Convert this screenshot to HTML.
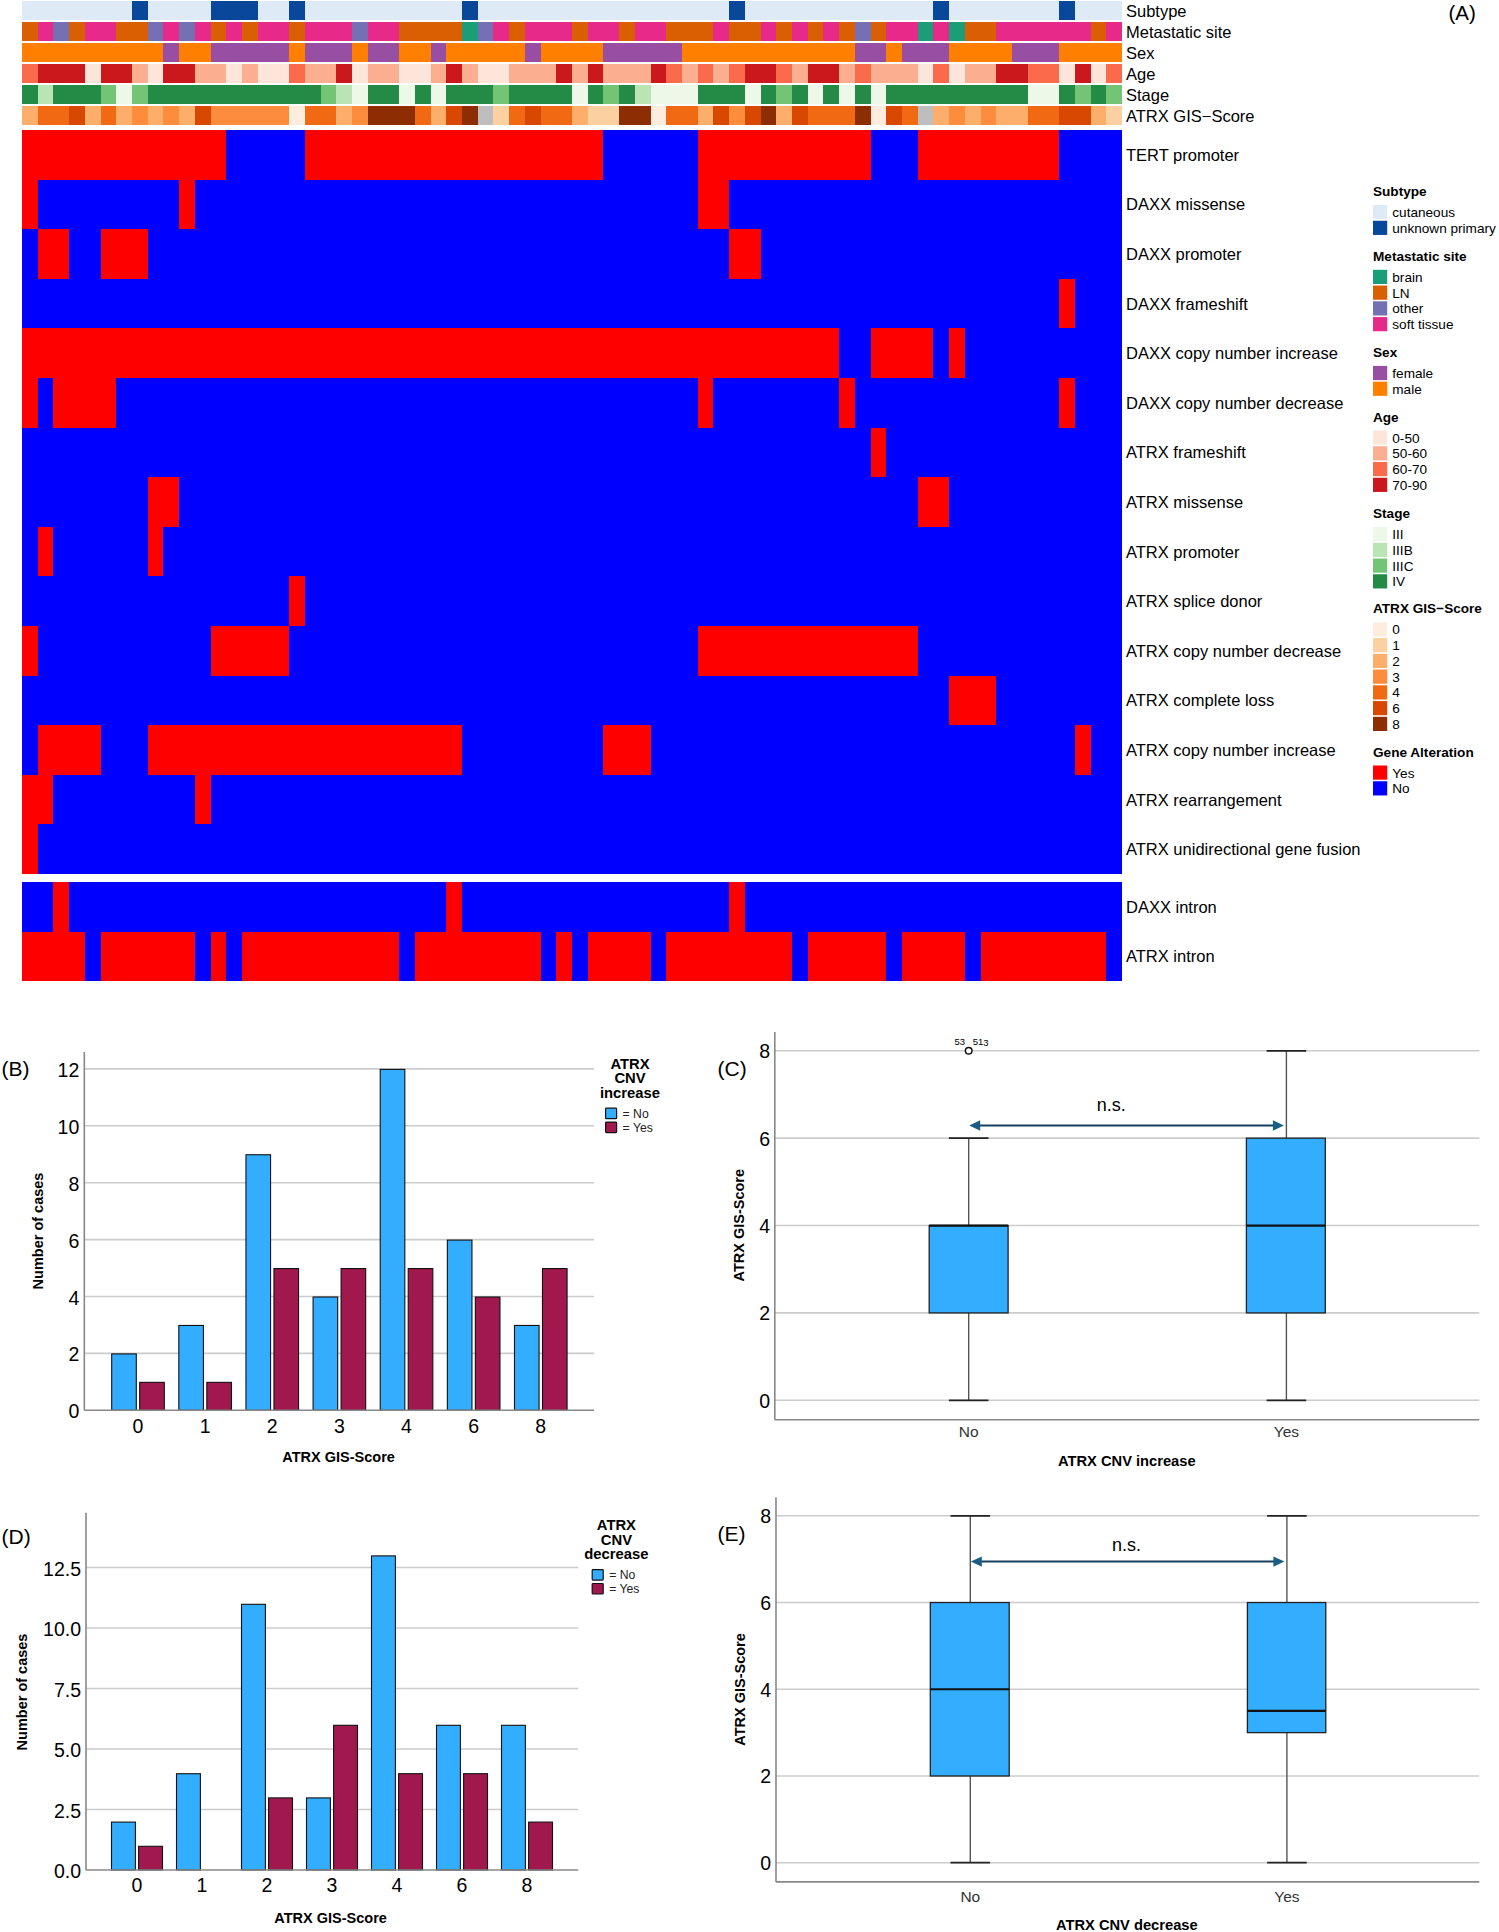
<!DOCTYPE html>
<html><head><meta charset="utf-8"><title>Figure</title>
<style>html,body{margin:0;padding:0;background:#fff;}body{width:1499px;height:1932px;overflow:hidden;font-family:"Liberation Sans", sans-serif;}svg{display:block;}</style>
</head><body>
<svg width="1499" height="1932" viewBox="0 0 1499 1932" font-family='"Liberation Sans", sans-serif'>
<rect x="0" y="0" width="1499" height="1932" fill="#fff"/>
<g shape-rendering="crispEdges">
<rect x="22.00" y="1.10" width="110.00" height="19.10" fill="#deebf7" />
<rect x="132.00" y="1.10" width="15.71" height="19.10" fill="#08479a" />
<rect x="147.71" y="1.10" width="62.86" height="19.10" fill="#deebf7" />
<rect x="210.57" y="1.10" width="47.14" height="19.10" fill="#08479a" />
<rect x="257.71" y="1.10" width="31.43" height="19.10" fill="#deebf7" />
<rect x="289.14" y="1.10" width="15.71" height="19.10" fill="#08479a" />
<rect x="304.86" y="1.10" width="157.14" height="19.10" fill="#deebf7" />
<rect x="462.00" y="1.10" width="15.71" height="19.10" fill="#08479a" />
<rect x="477.71" y="1.10" width="251.43" height="19.10" fill="#deebf7" />
<rect x="729.14" y="1.10" width="15.71" height="19.10" fill="#08479a" />
<rect x="744.86" y="1.10" width="188.57" height="19.10" fill="#deebf7" />
<rect x="933.43" y="1.10" width="15.71" height="19.10" fill="#08479a" />
<rect x="949.14" y="1.10" width="110.00" height="19.10" fill="#deebf7" />
<rect x="1059.14" y="1.10" width="15.71" height="19.10" fill="#08479a" />
<rect x="1074.86" y="1.10" width="47.14" height="19.10" fill="#deebf7" />
<text x="1126.00" y="16.55" font-size="16.5" text-anchor="start" font-weight="normal" fill="#000" >Subtype</text>
<rect x="22.00" y="22.15" width="15.71" height="19.10" fill="#d95f02" />
<rect x="37.71" y="22.15" width="15.71" height="19.10" fill="#e7298a" />
<rect x="53.43" y="22.15" width="15.71" height="19.10" fill="#7570b3" />
<rect x="69.14" y="22.15" width="15.71" height="19.10" fill="#d95f02" />
<rect x="84.86" y="22.15" width="31.43" height="19.10" fill="#e7298a" />
<rect x="116.29" y="22.15" width="31.43" height="19.10" fill="#d95f02" />
<rect x="147.71" y="22.15" width="15.71" height="19.10" fill="#7570b3" />
<rect x="163.43" y="22.15" width="15.71" height="19.10" fill="#e7298a" />
<rect x="179.14" y="22.15" width="15.71" height="19.10" fill="#7570b3" />
<rect x="194.86" y="22.15" width="15.71" height="19.10" fill="#e7298a" />
<rect x="210.57" y="22.15" width="15.71" height="19.10" fill="#d95f02" />
<rect x="226.29" y="22.15" width="15.71" height="19.10" fill="#e7298a" />
<rect x="242.00" y="22.15" width="15.71" height="19.10" fill="#d95f02" />
<rect x="257.71" y="22.15" width="31.43" height="19.10" fill="#e7298a" />
<rect x="289.14" y="22.15" width="15.71" height="19.10" fill="#d95f02" />
<rect x="304.86" y="22.15" width="47.14" height="19.10" fill="#e7298a" />
<rect x="352.00" y="22.15" width="15.71" height="19.10" fill="#7570b3" />
<rect x="367.71" y="22.15" width="31.43" height="19.10" fill="#e7298a" />
<rect x="399.14" y="22.15" width="62.86" height="19.10" fill="#d95f02" />
<rect x="462.00" y="22.15" width="15.71" height="19.10" fill="#1b9e77" />
<rect x="477.71" y="22.15" width="15.71" height="19.10" fill="#7570b3" />
<rect x="493.43" y="22.15" width="15.71" height="19.10" fill="#e7298a" />
<rect x="509.14" y="22.15" width="15.71" height="19.10" fill="#d95f02" />
<rect x="524.86" y="22.15" width="47.14" height="19.10" fill="#e7298a" />
<rect x="572.00" y="22.15" width="15.71" height="19.10" fill="#d95f02" />
<rect x="587.71" y="22.15" width="31.43" height="19.10" fill="#e7298a" />
<rect x="619.14" y="22.15" width="15.71" height="19.10" fill="#d95f02" />
<rect x="634.86" y="22.15" width="31.43" height="19.10" fill="#e7298a" />
<rect x="666.29" y="22.15" width="47.14" height="19.10" fill="#d95f02" />
<rect x="713.43" y="22.15" width="15.71" height="19.10" fill="#e7298a" />
<rect x="729.14" y="22.15" width="31.43" height="19.10" fill="#d95f02" />
<rect x="760.57" y="22.15" width="15.71" height="19.10" fill="#e7298a" />
<rect x="776.29" y="22.15" width="15.71" height="19.10" fill="#d95f02" />
<rect x="792.00" y="22.15" width="15.71" height="19.10" fill="#e7298a" />
<rect x="807.71" y="22.15" width="15.71" height="19.10" fill="#d95f02" />
<rect x="823.43" y="22.15" width="15.71" height="19.10" fill="#e7298a" />
<rect x="839.14" y="22.15" width="15.71" height="19.10" fill="#d95f02" />
<rect x="854.86" y="22.15" width="15.71" height="19.10" fill="#7570b3" />
<rect x="870.57" y="22.15" width="15.71" height="19.10" fill="#d95f02" />
<rect x="886.29" y="22.15" width="31.43" height="19.10" fill="#e7298a" />
<rect x="917.71" y="22.15" width="15.71" height="19.10" fill="#1b9e77" />
<rect x="933.43" y="22.15" width="15.71" height="19.10" fill="#e7298a" />
<rect x="949.14" y="22.15" width="15.71" height="19.10" fill="#1b9e77" />
<rect x="964.86" y="22.15" width="31.43" height="19.10" fill="#d95f02" />
<rect x="996.29" y="22.15" width="94.29" height="19.10" fill="#e7298a" />
<rect x="1090.57" y="22.15" width="15.71" height="19.10" fill="#d95f02" />
<rect x="1106.29" y="22.15" width="15.71" height="19.10" fill="#e7298a" />
<text x="1126.00" y="37.60" font-size="16.5" text-anchor="start" font-weight="normal" fill="#000" >Metastatic site</text>
<rect x="22.00" y="43.20" width="141.43" height="19.10" fill="#ff7f00" />
<rect x="163.43" y="43.20" width="15.71" height="19.10" fill="#984ea3" />
<rect x="179.14" y="43.20" width="31.43" height="19.10" fill="#ff7f00" />
<rect x="210.57" y="43.20" width="78.57" height="19.10" fill="#984ea3" />
<rect x="289.14" y="43.20" width="15.71" height="19.10" fill="#ff7f00" />
<rect x="304.86" y="43.20" width="47.14" height="19.10" fill="#984ea3" />
<rect x="352.00" y="43.20" width="15.71" height="19.10" fill="#ff7f00" />
<rect x="367.71" y="43.20" width="31.43" height="19.10" fill="#984ea3" />
<rect x="399.14" y="43.20" width="31.43" height="19.10" fill="#ff7f00" />
<rect x="430.57" y="43.20" width="15.71" height="19.10" fill="#984ea3" />
<rect x="446.29" y="43.20" width="78.57" height="19.10" fill="#ff7f00" />
<rect x="524.86" y="43.20" width="15.71" height="19.10" fill="#984ea3" />
<rect x="540.57" y="43.20" width="62.86" height="19.10" fill="#ff7f00" />
<rect x="603.43" y="43.20" width="78.57" height="19.10" fill="#984ea3" />
<rect x="682.00" y="43.20" width="172.86" height="19.10" fill="#ff7f00" />
<rect x="854.86" y="43.20" width="31.43" height="19.10" fill="#984ea3" />
<rect x="886.29" y="43.20" width="15.71" height="19.10" fill="#ff7f00" />
<rect x="902.00" y="43.20" width="47.14" height="19.10" fill="#984ea3" />
<rect x="949.14" y="43.20" width="62.86" height="19.10" fill="#ff7f00" />
<rect x="1012.00" y="43.20" width="47.14" height="19.10" fill="#984ea3" />
<rect x="1059.14" y="43.20" width="62.86" height="19.10" fill="#ff7f00" />
<text x="1126.00" y="58.65" font-size="16.5" text-anchor="start" font-weight="normal" fill="#000" >Sex</text>
<rect x="22.00" y="64.25" width="15.71" height="19.10" fill="#fb6a4a" />
<rect x="37.71" y="64.25" width="47.14" height="19.10" fill="#cb181d" />
<rect x="84.86" y="64.25" width="15.71" height="19.10" fill="#fee5d9" />
<rect x="100.57" y="64.25" width="31.43" height="19.10" fill="#cb181d" />
<rect x="132.00" y="64.25" width="15.71" height="19.10" fill="#fcae91" />
<rect x="147.71" y="64.25" width="15.71" height="19.10" fill="#fee5d9" />
<rect x="163.43" y="64.25" width="31.43" height="19.10" fill="#cb181d" />
<rect x="194.86" y="64.25" width="31.43" height="19.10" fill="#fcae91" />
<rect x="226.29" y="64.25" width="15.71" height="19.10" fill="#fee5d9" />
<rect x="242.00" y="64.25" width="15.71" height="19.10" fill="#fcae91" />
<rect x="257.71" y="64.25" width="31.43" height="19.10" fill="#fee5d9" />
<rect x="289.14" y="64.25" width="15.71" height="19.10" fill="#fb6a4a" />
<rect x="304.86" y="64.25" width="31.43" height="19.10" fill="#fcae91" />
<rect x="336.29" y="64.25" width="15.71" height="19.10" fill="#cb181d" />
<rect x="352.00" y="64.25" width="15.71" height="19.10" fill="#fee5d9" />
<rect x="367.71" y="64.25" width="31.43" height="19.10" fill="#fcae91" />
<rect x="399.14" y="64.25" width="31.43" height="19.10" fill="#fee5d9" />
<rect x="430.57" y="64.25" width="15.71" height="19.10" fill="#fcae91" />
<rect x="446.29" y="64.25" width="15.71" height="19.10" fill="#cb181d" />
<rect x="462.00" y="64.25" width="15.71" height="19.10" fill="#fcae91" />
<rect x="477.71" y="64.25" width="31.43" height="19.10" fill="#fee5d9" />
<rect x="509.14" y="64.25" width="47.14" height="19.10" fill="#fcae91" />
<rect x="556.29" y="64.25" width="15.71" height="19.10" fill="#cb181d" />
<rect x="572.00" y="64.25" width="15.71" height="19.10" fill="#fcae91" />
<rect x="587.71" y="64.25" width="15.71" height="19.10" fill="#cb181d" />
<rect x="603.43" y="64.25" width="47.14" height="19.10" fill="#fcae91" />
<rect x="650.57" y="64.25" width="15.71" height="19.10" fill="#cb181d" />
<rect x="666.29" y="64.25" width="15.71" height="19.10" fill="#fb6a4a" />
<rect x="682.00" y="64.25" width="15.71" height="19.10" fill="#fcae91" />
<rect x="697.71" y="64.25" width="15.71" height="19.10" fill="#fb6a4a" />
<rect x="713.43" y="64.25" width="15.71" height="19.10" fill="#fcae91" />
<rect x="729.14" y="64.25" width="15.71" height="19.10" fill="#fb6a4a" />
<rect x="744.86" y="64.25" width="31.43" height="19.10" fill="#cb181d" />
<rect x="776.29" y="64.25" width="15.71" height="19.10" fill="#fb6a4a" />
<rect x="792.00" y="64.25" width="15.71" height="19.10" fill="#fcae91" />
<rect x="807.71" y="64.25" width="31.43" height="19.10" fill="#cb181d" />
<rect x="839.14" y="64.25" width="15.71" height="19.10" fill="#fcae91" />
<rect x="854.86" y="64.25" width="15.71" height="19.10" fill="#fb6a4a" />
<rect x="870.57" y="64.25" width="47.14" height="19.10" fill="#fcae91" />
<rect x="917.71" y="64.25" width="15.71" height="19.10" fill="#fee5d9" />
<rect x="933.43" y="64.25" width="15.71" height="19.10" fill="#fb6a4a" />
<rect x="949.14" y="64.25" width="15.71" height="19.10" fill="#fee5d9" />
<rect x="964.86" y="64.25" width="31.43" height="19.10" fill="#fcae91" />
<rect x="996.29" y="64.25" width="31.43" height="19.10" fill="#cb181d" />
<rect x="1027.71" y="64.25" width="31.43" height="19.10" fill="#fb6a4a" />
<rect x="1059.14" y="64.25" width="15.71" height="19.10" fill="#fee5d9" />
<rect x="1074.86" y="64.25" width="15.71" height="19.10" fill="#cb181d" />
<rect x="1090.57" y="64.25" width="15.71" height="19.10" fill="#fee5d9" />
<rect x="1106.29" y="64.25" width="15.71" height="19.10" fill="#fb6a4a" />
<text x="1126.00" y="79.70" font-size="16.5" text-anchor="start" font-weight="normal" fill="#000" >Age</text>
<rect x="22.00" y="85.30" width="15.71" height="19.10" fill="#238b45" />
<rect x="37.71" y="85.30" width="15.71" height="19.10" fill="#bae4b3" />
<rect x="53.43" y="85.30" width="47.14" height="19.10" fill="#238b45" />
<rect x="100.57" y="85.30" width="15.71" height="19.10" fill="#74c476" />
<rect x="116.29" y="85.30" width="15.71" height="19.10" fill="#edf8e9" />
<rect x="132.00" y="85.30" width="15.71" height="19.10" fill="#74c476" />
<rect x="147.71" y="85.30" width="172.86" height="19.10" fill="#238b45" />
<rect x="320.57" y="85.30" width="15.71" height="19.10" fill="#74c476" />
<rect x="336.29" y="85.30" width="15.71" height="19.10" fill="#bae4b3" />
<rect x="352.00" y="85.30" width="15.71" height="19.10" fill="#edf8e9" />
<rect x="367.71" y="85.30" width="31.43" height="19.10" fill="#238b45" />
<rect x="399.14" y="85.30" width="15.71" height="19.10" fill="#edf8e9" />
<rect x="414.86" y="85.30" width="15.71" height="19.10" fill="#238b45" />
<rect x="430.57" y="85.30" width="15.71" height="19.10" fill="#edf8e9" />
<rect x="446.29" y="85.30" width="47.14" height="19.10" fill="#238b45" />
<rect x="493.43" y="85.30" width="15.71" height="19.10" fill="#74c476" />
<rect x="509.14" y="85.30" width="62.86" height="19.10" fill="#238b45" />
<rect x="572.00" y="85.30" width="15.71" height="19.10" fill="#edf8e9" />
<rect x="587.71" y="85.30" width="15.71" height="19.10" fill="#238b45" />
<rect x="603.43" y="85.30" width="15.71" height="19.10" fill="#74c476" />
<rect x="619.14" y="85.30" width="15.71" height="19.10" fill="#238b45" />
<rect x="634.86" y="85.30" width="15.71" height="19.10" fill="#bae4b3" />
<rect x="650.57" y="85.30" width="47.14" height="19.10" fill="#edf8e9" />
<rect x="697.71" y="85.30" width="47.14" height="19.10" fill="#238b45" />
<rect x="744.86" y="85.30" width="15.71" height="19.10" fill="#edf8e9" />
<rect x="760.57" y="85.30" width="15.71" height="19.10" fill="#238b45" />
<rect x="776.29" y="85.30" width="15.71" height="19.10" fill="#74c476" />
<rect x="792.00" y="85.30" width="15.71" height="19.10" fill="#238b45" />
<rect x="807.71" y="85.30" width="15.71" height="19.10" fill="#edf8e9" />
<rect x="823.43" y="85.30" width="15.71" height="19.10" fill="#238b45" />
<rect x="839.14" y="85.30" width="15.71" height="19.10" fill="#edf8e9" />
<rect x="854.86" y="85.30" width="15.71" height="19.10" fill="#238b45" />
<rect x="870.57" y="85.30" width="15.71" height="19.10" fill="#edf8e9" />
<rect x="886.29" y="85.30" width="141.43" height="19.10" fill="#238b45" />
<rect x="1027.71" y="85.30" width="31.43" height="19.10" fill="#edf8e9" />
<rect x="1059.14" y="85.30" width="15.71" height="19.10" fill="#238b45" />
<rect x="1074.86" y="85.30" width="15.71" height="19.10" fill="#74c476" />
<rect x="1090.57" y="85.30" width="15.71" height="19.10" fill="#238b45" />
<rect x="1106.29" y="85.30" width="15.71" height="19.10" fill="#74c476" />
<text x="1126.00" y="100.75" font-size="16.5" text-anchor="start" font-weight="normal" fill="#000" >Stage</text>
<rect x="22.00" y="106.35" width="15.71" height="19.10" fill="#fdae6b" />
<rect x="37.71" y="106.35" width="31.43" height="19.10" fill="#f16913" />
<rect x="69.14" y="106.35" width="15.71" height="19.10" fill="#d94801" />
<rect x="84.86" y="106.35" width="15.71" height="19.10" fill="#fdae6b" />
<rect x="100.57" y="106.35" width="15.71" height="19.10" fill="#f16913" />
<rect x="116.29" y="106.35" width="15.71" height="19.10" fill="#fdae6b" />
<rect x="132.00" y="106.35" width="15.71" height="19.10" fill="#fd8d3c" />
<rect x="147.71" y="106.35" width="15.71" height="19.10" fill="#fdae6b" />
<rect x="163.43" y="106.35" width="15.71" height="19.10" fill="#fd8d3c" />
<rect x="179.14" y="106.35" width="15.71" height="19.10" fill="#fdae6b" />
<rect x="194.86" y="106.35" width="15.71" height="19.10" fill="#d94801" />
<rect x="210.57" y="106.35" width="78.57" height="19.10" fill="#fd8d3c" />
<rect x="289.14" y="106.35" width="15.71" height="19.10" fill="#feedde" />
<rect x="304.86" y="106.35" width="31.43" height="19.10" fill="#f16913" />
<rect x="336.29" y="106.35" width="15.71" height="19.10" fill="#fdae6b" />
<rect x="352.00" y="106.35" width="15.71" height="19.10" fill="#fd8d3c" />
<rect x="367.71" y="106.35" width="47.14" height="19.10" fill="#8c2d04" />
<rect x="414.86" y="106.35" width="15.71" height="19.10" fill="#f16913" />
<rect x="430.57" y="106.35" width="15.71" height="19.10" fill="#fdae6b" />
<rect x="446.29" y="106.35" width="15.71" height="19.10" fill="#d94801" />
<rect x="462.00" y="106.35" width="15.71" height="19.10" fill="#8c2d04" />
<rect x="477.71" y="106.35" width="15.71" height="19.10" fill="#bebebe" />
<rect x="493.43" y="106.35" width="15.71" height="19.10" fill="#fdd0a2" />
<rect x="509.14" y="106.35" width="15.71" height="19.10" fill="#f16913" />
<rect x="524.86" y="106.35" width="15.71" height="19.10" fill="#d94801" />
<rect x="540.57" y="106.35" width="31.43" height="19.10" fill="#f16913" />
<rect x="572.00" y="106.35" width="15.71" height="19.10" fill="#fdae6b" />
<rect x="587.71" y="106.35" width="31.43" height="19.10" fill="#fdd0a2" />
<rect x="619.14" y="106.35" width="31.43" height="19.10" fill="#8c2d04" />
<rect x="650.57" y="106.35" width="15.71" height="19.10" fill="#feedde" />
<rect x="666.29" y="106.35" width="31.43" height="19.10" fill="#f16913" />
<rect x="697.71" y="106.35" width="15.71" height="19.10" fill="#fdae6b" />
<rect x="713.43" y="106.35" width="15.71" height="19.10" fill="#d94801" />
<rect x="729.14" y="106.35" width="15.71" height="19.10" fill="#fd8d3c" />
<rect x="744.86" y="106.35" width="15.71" height="19.10" fill="#d94801" />
<rect x="760.57" y="106.35" width="15.71" height="19.10" fill="#8c2d04" />
<rect x="776.29" y="106.35" width="15.71" height="19.10" fill="#fdae6b" />
<rect x="792.00" y="106.35" width="15.71" height="19.10" fill="#d94801" />
<rect x="807.71" y="106.35" width="47.14" height="19.10" fill="#f16913" />
<rect x="854.86" y="106.35" width="15.71" height="19.10" fill="#8c2d04" />
<rect x="870.57" y="106.35" width="15.71" height="19.10" fill="#feedde" />
<rect x="886.29" y="106.35" width="15.71" height="19.10" fill="#d94801" />
<rect x="902.00" y="106.35" width="15.71" height="19.10" fill="#f16913" />
<rect x="917.71" y="106.35" width="15.71" height="19.10" fill="#bebebe" />
<rect x="933.43" y="106.35" width="15.71" height="19.10" fill="#fdae6b" />
<rect x="949.14" y="106.35" width="15.71" height="19.10" fill="#fd8d3c" />
<rect x="964.86" y="106.35" width="15.71" height="19.10" fill="#fdae6b" />
<rect x="980.57" y="106.35" width="15.71" height="19.10" fill="#fd8d3c" />
<rect x="996.29" y="106.35" width="31.43" height="19.10" fill="#fdae6b" />
<rect x="1027.71" y="106.35" width="31.43" height="19.10" fill="#f16913" />
<rect x="1059.14" y="106.35" width="31.43" height="19.10" fill="#d94801" />
<rect x="1090.57" y="106.35" width="15.71" height="19.10" fill="#fdae6b" />
<rect x="1106.29" y="106.35" width="15.71" height="19.10" fill="#fdd0a2" />
<text x="1126.00" y="121.80" font-size="16.5" text-anchor="start" font-weight="normal" fill="#000" >ATRX GIS−Score</text>
<rect x="22.00" y="130.00" width="1100.00" height="49.60" fill="#0000ff" />
<rect x="22.00" y="130.00" width="204.29" height="49.60" fill="#ff0000" />
<rect x="304.86" y="130.00" width="298.57" height="49.60" fill="#ff0000" />
<rect x="697.71" y="130.00" width="172.86" height="49.60" fill="#ff0000" />
<rect x="917.71" y="130.00" width="141.43" height="49.60" fill="#ff0000" />
<text x="1126.00" y="160.70" font-size="16.5" text-anchor="start" font-weight="normal" fill="#000" >TERT promoter</text>
<rect x="22.00" y="179.60" width="1100.00" height="49.60" fill="#0000ff" />
<rect x="22.00" y="179.60" width="15.71" height="49.60" fill="#ff0000" />
<rect x="179.14" y="179.60" width="15.71" height="49.60" fill="#ff0000" />
<rect x="697.71" y="179.60" width="31.43" height="49.60" fill="#ff0000" />
<text x="1126.00" y="210.30" font-size="16.5" text-anchor="start" font-weight="normal" fill="#000" >DAXX missense</text>
<rect x="22.00" y="229.20" width="1100.00" height="49.60" fill="#0000ff" />
<rect x="37.71" y="229.20" width="31.43" height="49.60" fill="#ff0000" />
<rect x="100.57" y="229.20" width="47.14" height="49.60" fill="#ff0000" />
<rect x="729.14" y="229.20" width="31.43" height="49.60" fill="#ff0000" />
<text x="1126.00" y="259.90" font-size="16.5" text-anchor="start" font-weight="normal" fill="#000" >DAXX promoter</text>
<rect x="22.00" y="278.80" width="1100.00" height="49.60" fill="#0000ff" />
<rect x="1059.14" y="278.80" width="15.71" height="49.60" fill="#ff0000" />
<text x="1126.00" y="309.50" font-size="16.5" text-anchor="start" font-weight="normal" fill="#000" >DAXX frameshift</text>
<rect x="22.00" y="328.40" width="1100.00" height="49.60" fill="#0000ff" />
<rect x="22.00" y="328.40" width="817.14" height="49.60" fill="#ff0000" />
<rect x="870.57" y="328.40" width="62.86" height="49.60" fill="#ff0000" />
<rect x="949.14" y="328.40" width="15.71" height="49.60" fill="#ff0000" />
<text x="1126.00" y="359.10" font-size="16.5" text-anchor="start" font-weight="normal" fill="#000" >DAXX copy number increase</text>
<rect x="22.00" y="378.00" width="1100.00" height="49.60" fill="#0000ff" />
<rect x="22.00" y="378.00" width="15.71" height="49.60" fill="#ff0000" />
<rect x="53.43" y="378.00" width="62.86" height="49.60" fill="#ff0000" />
<rect x="697.71" y="378.00" width="15.71" height="49.60" fill="#ff0000" />
<rect x="839.14" y="378.00" width="15.71" height="49.60" fill="#ff0000" />
<rect x="1059.14" y="378.00" width="15.71" height="49.60" fill="#ff0000" />
<text x="1126.00" y="408.70" font-size="16.5" text-anchor="start" font-weight="normal" fill="#000" >DAXX copy number decrease</text>
<rect x="22.00" y="427.60" width="1100.00" height="49.60" fill="#0000ff" />
<rect x="870.57" y="427.60" width="15.71" height="49.60" fill="#ff0000" />
<text x="1126.00" y="458.30" font-size="16.5" text-anchor="start" font-weight="normal" fill="#000" >ATRX frameshift</text>
<rect x="22.00" y="477.20" width="1100.00" height="49.60" fill="#0000ff" />
<rect x="147.71" y="477.20" width="31.43" height="49.60" fill="#ff0000" />
<rect x="917.71" y="477.20" width="31.43" height="49.60" fill="#ff0000" />
<text x="1126.00" y="507.90" font-size="16.5" text-anchor="start" font-weight="normal" fill="#000" >ATRX missense</text>
<rect x="22.00" y="526.80" width="1100.00" height="49.60" fill="#0000ff" />
<rect x="37.71" y="526.80" width="15.71" height="49.60" fill="#ff0000" />
<rect x="147.71" y="526.80" width="15.71" height="49.60" fill="#ff0000" />
<text x="1126.00" y="557.50" font-size="16.5" text-anchor="start" font-weight="normal" fill="#000" >ATRX promoter</text>
<rect x="22.00" y="576.40" width="1100.00" height="49.60" fill="#0000ff" />
<rect x="289.14" y="576.40" width="15.71" height="49.60" fill="#ff0000" />
<text x="1126.00" y="607.10" font-size="16.5" text-anchor="start" font-weight="normal" fill="#000" >ATRX splice donor</text>
<rect x="22.00" y="626.00" width="1100.00" height="49.60" fill="#0000ff" />
<rect x="22.00" y="626.00" width="15.71" height="49.60" fill="#ff0000" />
<rect x="210.57" y="626.00" width="78.57" height="49.60" fill="#ff0000" />
<rect x="697.71" y="626.00" width="220.00" height="49.60" fill="#ff0000" />
<text x="1126.00" y="656.70" font-size="16.5" text-anchor="start" font-weight="normal" fill="#000" >ATRX copy number decrease</text>
<rect x="22.00" y="675.60" width="1100.00" height="49.60" fill="#0000ff" />
<rect x="949.14" y="675.60" width="47.14" height="49.60" fill="#ff0000" />
<text x="1126.00" y="706.30" font-size="16.5" text-anchor="start" font-weight="normal" fill="#000" >ATRX complete loss</text>
<rect x="22.00" y="725.20" width="1100.00" height="49.60" fill="#0000ff" />
<rect x="37.71" y="725.20" width="62.86" height="49.60" fill="#ff0000" />
<rect x="147.71" y="725.20" width="314.29" height="49.60" fill="#ff0000" />
<rect x="603.43" y="725.20" width="47.14" height="49.60" fill="#ff0000" />
<rect x="1074.86" y="725.20" width="15.71" height="49.60" fill="#ff0000" />
<text x="1126.00" y="755.90" font-size="16.5" text-anchor="start" font-weight="normal" fill="#000" >ATRX copy number increase</text>
<rect x="22.00" y="774.80" width="1100.00" height="49.60" fill="#0000ff" />
<rect x="22.00" y="774.80" width="31.43" height="49.60" fill="#ff0000" />
<rect x="194.86" y="774.80" width="15.71" height="49.60" fill="#ff0000" />
<text x="1126.00" y="805.50" font-size="16.5" text-anchor="start" font-weight="normal" fill="#000" >ATRX rearrangement</text>
<rect x="22.00" y="824.40" width="1100.00" height="49.60" fill="#0000ff" />
<rect x="22.00" y="824.40" width="15.71" height="49.60" fill="#ff0000" />
<text x="1126.00" y="855.10" font-size="16.5" text-anchor="start" font-weight="normal" fill="#000" >ATRX unidirectional gene fusion</text>
<rect x="22.00" y="882.00" width="1100.00" height="49.50" fill="#0000ff" />
<rect x="53.43" y="882.00" width="15.71" height="49.50" fill="#ff0000" />
<rect x="446.29" y="882.00" width="15.71" height="49.50" fill="#ff0000" />
<rect x="729.14" y="882.00" width="15.71" height="49.50" fill="#ff0000" />
<text x="1126.00" y="912.65" font-size="16.5" text-anchor="start" font-weight="normal" fill="#000" >DAXX intron</text>
<rect x="22.00" y="931.50" width="1100.00" height="49.50" fill="#0000ff" />
<rect x="22.00" y="931.50" width="62.86" height="49.50" fill="#ff0000" />
<rect x="100.57" y="931.50" width="94.29" height="49.50" fill="#ff0000" />
<rect x="210.57" y="931.50" width="15.71" height="49.50" fill="#ff0000" />
<rect x="242.00" y="931.50" width="157.14" height="49.50" fill="#ff0000" />
<rect x="414.86" y="931.50" width="125.71" height="49.50" fill="#ff0000" />
<rect x="556.29" y="931.50" width="15.71" height="49.50" fill="#ff0000" />
<rect x="587.71" y="931.50" width="62.86" height="49.50" fill="#ff0000" />
<rect x="666.29" y="931.50" width="125.71" height="49.50" fill="#ff0000" />
<rect x="807.71" y="931.50" width="78.57" height="49.50" fill="#ff0000" />
<rect x="902.00" y="931.50" width="62.86" height="49.50" fill="#ff0000" />
<rect x="980.57" y="931.50" width="125.71" height="49.50" fill="#ff0000" />
<text x="1126.00" y="962.15" font-size="16.5" text-anchor="start" font-weight="normal" fill="#000" >ATRX intron</text>
</g>
<text x="1448.50" y="20.00" font-size="20.5" text-anchor="start" font-weight="normal" fill="#000" >(A)</text>
<text x="1373.00" y="196.00" font-size="13.6" text-anchor="start" font-weight="bold" fill="#000" >Subtype</text>
<rect x="1373.00" y="205.00" width="14.20" height="14.20" fill="#deebf7" />
<text x="1392.30" y="217.00" font-size="13.6" text-anchor="start" font-weight="normal" fill="#000" >cutaneous</text>
<rect x="1373.00" y="220.75" width="14.20" height="14.20" fill="#08479a" />
<text x="1392.30" y="232.75" font-size="13.6" text-anchor="start" font-weight="normal" fill="#000" >unknown primary</text>
<text x="1373.00" y="260.80" font-size="13.6" text-anchor="start" font-weight="bold" fill="#000" >Metastatic site</text>
<rect x="1373.00" y="269.80" width="14.20" height="14.20" fill="#1b9e77" />
<text x="1392.30" y="281.80" font-size="13.6" text-anchor="start" font-weight="normal" fill="#000" >brain</text>
<rect x="1373.00" y="285.55" width="14.20" height="14.20" fill="#d95f02" />
<text x="1392.30" y="297.55" font-size="13.6" text-anchor="start" font-weight="normal" fill="#000" >LN</text>
<rect x="1373.00" y="301.30" width="14.20" height="14.20" fill="#7570b3" />
<text x="1392.30" y="313.30" font-size="13.6" text-anchor="start" font-weight="normal" fill="#000" >other</text>
<rect x="1373.00" y="317.05" width="14.20" height="14.20" fill="#e7298a" />
<text x="1392.30" y="329.05" font-size="13.6" text-anchor="start" font-weight="normal" fill="#000" >soft tissue</text>
<text x="1373.00" y="356.90" font-size="13.6" text-anchor="start" font-weight="bold" fill="#000" >Sex</text>
<rect x="1373.00" y="365.90" width="14.20" height="14.20" fill="#984ea3" />
<text x="1392.30" y="377.90" font-size="13.6" text-anchor="start" font-weight="normal" fill="#000" >female</text>
<rect x="1373.00" y="381.65" width="14.20" height="14.20" fill="#ff7f00" />
<text x="1392.30" y="393.65" font-size="13.6" text-anchor="start" font-weight="normal" fill="#000" >male</text>
<text x="1373.00" y="421.50" font-size="13.6" text-anchor="start" font-weight="bold" fill="#000" >Age</text>
<rect x="1373.00" y="430.50" width="14.20" height="14.20" fill="#fee5d9" />
<text x="1392.30" y="442.50" font-size="13.6" text-anchor="start" font-weight="normal" fill="#000" >0-50</text>
<rect x="1373.00" y="446.25" width="14.20" height="14.20" fill="#fcae91" />
<text x="1392.30" y="458.25" font-size="13.6" text-anchor="start" font-weight="normal" fill="#000" >50-60</text>
<rect x="1373.00" y="462.00" width="14.20" height="14.20" fill="#fb6a4a" />
<text x="1392.30" y="474.00" font-size="13.6" text-anchor="start" font-weight="normal" fill="#000" >60-70</text>
<rect x="1373.00" y="477.75" width="14.20" height="14.20" fill="#cb181d" />
<text x="1392.30" y="489.75" font-size="13.6" text-anchor="start" font-weight="normal" fill="#000" >70-90</text>
<text x="1373.00" y="518.00" font-size="13.6" text-anchor="start" font-weight="bold" fill="#000" >Stage</text>
<rect x="1373.00" y="527.00" width="14.20" height="14.20" fill="#edf8e9" />
<text x="1392.30" y="539.00" font-size="13.6" text-anchor="start" font-weight="normal" fill="#000" >III</text>
<rect x="1373.00" y="542.75" width="14.20" height="14.20" fill="#bae4b3" />
<text x="1392.30" y="554.75" font-size="13.6" text-anchor="start" font-weight="normal" fill="#000" >IIIB</text>
<rect x="1373.00" y="558.50" width="14.20" height="14.20" fill="#74c476" />
<text x="1392.30" y="570.50" font-size="13.6" text-anchor="start" font-weight="normal" fill="#000" >IIIC</text>
<rect x="1373.00" y="574.25" width="14.20" height="14.20" fill="#238b45" />
<text x="1392.30" y="586.25" font-size="13.6" text-anchor="start" font-weight="normal" fill="#000" >IV</text>
<text x="1373.00" y="613.30" font-size="13.6" text-anchor="start" font-weight="bold" fill="#000" >ATRX GIS−Score</text>
<rect x="1373.00" y="622.30" width="14.20" height="14.20" fill="#feedde" />
<text x="1392.30" y="634.30" font-size="13.6" text-anchor="start" font-weight="normal" fill="#000" >0</text>
<rect x="1373.00" y="638.05" width="14.20" height="14.20" fill="#fdd0a2" />
<text x="1392.30" y="650.05" font-size="13.6" text-anchor="start" font-weight="normal" fill="#000" >1</text>
<rect x="1373.00" y="653.80" width="14.20" height="14.20" fill="#fdae6b" />
<text x="1392.30" y="665.80" font-size="13.6" text-anchor="start" font-weight="normal" fill="#000" >2</text>
<rect x="1373.00" y="669.55" width="14.20" height="14.20" fill="#fd8d3c" />
<text x="1392.30" y="681.55" font-size="13.6" text-anchor="start" font-weight="normal" fill="#000" >3</text>
<rect x="1373.00" y="685.30" width="14.20" height="14.20" fill="#f16913" />
<text x="1392.30" y="697.30" font-size="13.6" text-anchor="start" font-weight="normal" fill="#000" >4</text>
<rect x="1373.00" y="701.05" width="14.20" height="14.20" fill="#d94801" />
<text x="1392.30" y="713.05" font-size="13.6" text-anchor="start" font-weight="normal" fill="#000" >6</text>
<rect x="1373.00" y="716.80" width="14.20" height="14.20" fill="#8c2d04" />
<text x="1392.30" y="728.80" font-size="13.6" text-anchor="start" font-weight="normal" fill="#000" >8</text>
<text x="1373.00" y="756.50" font-size="13.6" text-anchor="start" font-weight="bold" fill="#000" >Gene Alteration</text>
<rect x="1373.00" y="765.50" width="14.20" height="14.20" fill="#ff0000" />
<text x="1392.30" y="777.50" font-size="13.6" text-anchor="start" font-weight="normal" fill="#000" >Yes</text>
<rect x="1373.00" y="781.25" width="14.20" height="14.20" fill="#0000ff" />
<text x="1392.30" y="793.25" font-size="13.6" text-anchor="start" font-weight="normal" fill="#000" >No</text>
<text x="79.30" y="1418.30" font-size="19.5" text-anchor="end" font-weight="normal" fill="#000" >0</text>
<line x1="84.30" y1="1353.40" x2="594.00" y2="1353.40" stroke="#cccccc" stroke-width="1.6"/>
<text x="79.30" y="1361.40" font-size="19.5" text-anchor="end" font-weight="normal" fill="#000" >2</text>
<line x1="84.30" y1="1296.50" x2="594.00" y2="1296.50" stroke="#cccccc" stroke-width="1.6"/>
<text x="79.30" y="1304.50" font-size="19.5" text-anchor="end" font-weight="normal" fill="#000" >4</text>
<line x1="84.30" y1="1239.60" x2="594.00" y2="1239.60" stroke="#cccccc" stroke-width="1.6"/>
<text x="79.30" y="1247.60" font-size="19.5" text-anchor="end" font-weight="normal" fill="#000" >6</text>
<line x1="84.30" y1="1182.70" x2="594.00" y2="1182.70" stroke="#cccccc" stroke-width="1.6"/>
<text x="79.30" y="1190.70" font-size="19.5" text-anchor="end" font-weight="normal" fill="#000" >8</text>
<line x1="84.30" y1="1125.80" x2="594.00" y2="1125.80" stroke="#cccccc" stroke-width="1.6"/>
<text x="79.30" y="1133.80" font-size="19.5" text-anchor="end" font-weight="normal" fill="#000" >10</text>
<line x1="84.30" y1="1068.90" x2="594.00" y2="1068.90" stroke="#cccccc" stroke-width="1.6"/>
<text x="79.30" y="1076.90" font-size="19.5" text-anchor="end" font-weight="normal" fill="#000" >12</text>
<rect x="111.70" y="1353.90" width="24.60" height="56.40" fill="#33adff" stroke="#111" stroke-width="1.1"/>
<rect x="139.70" y="1382.35" width="24.60" height="27.95" fill="#a0184e" stroke="#111" stroke-width="1.1"/>
<text x="138.00" y="1432.60" font-size="19.5" text-anchor="middle" font-weight="normal" fill="#000" >0</text>
<rect x="178.83" y="1325.45" width="24.60" height="84.85" fill="#33adff" stroke="#111" stroke-width="1.1"/>
<rect x="206.83" y="1382.35" width="24.60" height="27.95" fill="#a0184e" stroke="#111" stroke-width="1.1"/>
<text x="205.13" y="1432.60" font-size="19.5" text-anchor="middle" font-weight="normal" fill="#000" >1</text>
<rect x="245.96" y="1154.75" width="24.60" height="255.55" fill="#33adff" stroke="#111" stroke-width="1.1"/>
<rect x="273.96" y="1268.55" width="24.60" height="141.75" fill="#a0184e" stroke="#111" stroke-width="1.1"/>
<text x="272.26" y="1432.60" font-size="19.5" text-anchor="middle" font-weight="normal" fill="#000" >2</text>
<rect x="313.09" y="1297.00" width="24.60" height="113.30" fill="#33adff" stroke="#111" stroke-width="1.1"/>
<rect x="341.09" y="1268.55" width="24.60" height="141.75" fill="#a0184e" stroke="#111" stroke-width="1.1"/>
<text x="339.39" y="1432.60" font-size="19.5" text-anchor="middle" font-weight="normal" fill="#000" >3</text>
<rect x="380.22" y="1069.40" width="24.60" height="340.90" fill="#33adff" stroke="#111" stroke-width="1.1"/>
<rect x="408.22" y="1268.55" width="24.60" height="141.75" fill="#a0184e" stroke="#111" stroke-width="1.1"/>
<text x="406.52" y="1432.60" font-size="19.5" text-anchor="middle" font-weight="normal" fill="#000" >4</text>
<rect x="447.35" y="1240.10" width="24.60" height="170.20" fill="#33adff" stroke="#111" stroke-width="1.1"/>
<rect x="475.35" y="1297.00" width="24.60" height="113.30" fill="#a0184e" stroke="#111" stroke-width="1.1"/>
<text x="473.65" y="1432.60" font-size="19.5" text-anchor="middle" font-weight="normal" fill="#000" >6</text>
<rect x="514.48" y="1325.45" width="24.60" height="84.85" fill="#33adff" stroke="#111" stroke-width="1.1"/>
<rect x="542.48" y="1268.55" width="24.60" height="141.75" fill="#a0184e" stroke="#111" stroke-width="1.1"/>
<text x="540.78" y="1432.60" font-size="19.5" text-anchor="middle" font-weight="normal" fill="#000" >8</text>
<line x1="84.30" y1="1052.00" x2="84.30" y2="1410.30" stroke="#888888" stroke-width="1.6"/>
<line x1="84.30" y1="1410.30" x2="594.00" y2="1410.30" stroke="#888888" stroke-width="1.6"/>
<text x="1.50" y="1075.60" font-size="21" text-anchor="start" font-weight="normal" fill="#000" >(B)</text>
<text x="630.00" y="1068.70" font-size="14.8" text-anchor="middle" font-weight="bold" fill="#000" >ATRX</text>
<text x="630.00" y="1083.20" font-size="14.8" text-anchor="middle" font-weight="bold" fill="#000" >CNV</text>
<text x="630.00" y="1097.70" font-size="14.8" text-anchor="middle" font-weight="bold" fill="#000" >increase</text>
<rect x="605.60" y="1108.20" width="11" height="10.5" fill="#33adff" stroke="#111" stroke-width="1.2" rx="0.8"/>
<text x="622.60" y="1117.80" font-size="12.2" text-anchor="start" font-weight="normal" fill="#222" >= No</text>
<rect x="605.60" y="1122.10" width="11" height="10.5" fill="#a0184e" stroke="#111" stroke-width="1.2" rx="0.8"/>
<text x="622.60" y="1131.70" font-size="12.2" text-anchor="start" font-weight="normal" fill="#222" >= Yes</text>
<text x="338.60" y="1461.50" font-size="14.5" text-anchor="middle" font-weight="bold" fill="#000" >ATRX GIS-Score</text>
<text transform="translate(42.5,1231) rotate(-90)" font-size="14.5" font-weight="bold" text-anchor="middle">Number of cases</text>
<text x="81.00" y="1878.00" font-size="19.5" text-anchor="end" font-weight="normal" fill="#000" >0.0</text>
<line x1="86.00" y1="1809.50" x2="578.30" y2="1809.50" stroke="#cccccc" stroke-width="1.6"/>
<text x="81.00" y="1817.50" font-size="19.5" text-anchor="end" font-weight="normal" fill="#000" >2.5</text>
<line x1="86.00" y1="1749.00" x2="578.30" y2="1749.00" stroke="#cccccc" stroke-width="1.6"/>
<text x="81.00" y="1757.00" font-size="19.5" text-anchor="end" font-weight="normal" fill="#000" >5.0</text>
<line x1="86.00" y1="1688.50" x2="578.30" y2="1688.50" stroke="#cccccc" stroke-width="1.6"/>
<text x="81.00" y="1696.50" font-size="19.5" text-anchor="end" font-weight="normal" fill="#000" >7.5</text>
<line x1="86.00" y1="1628.00" x2="578.30" y2="1628.00" stroke="#cccccc" stroke-width="1.6"/>
<text x="81.00" y="1636.00" font-size="19.5" text-anchor="end" font-weight="normal" fill="#000" >10.0</text>
<line x1="86.00" y1="1567.50" x2="578.30" y2="1567.50" stroke="#cccccc" stroke-width="1.6"/>
<text x="81.00" y="1575.50" font-size="19.5" text-anchor="end" font-weight="normal" fill="#000" >12.5</text>
<rect x="111.50" y="1822.10" width="23.90" height="47.90" fill="#33adff" stroke="#111" stroke-width="1.1"/>
<rect x="138.60" y="1846.30" width="23.90" height="23.70" fill="#a0184e" stroke="#111" stroke-width="1.1"/>
<text x="137.00" y="1892.30" font-size="19.5" text-anchor="middle" font-weight="normal" fill="#000" >0</text>
<rect x="176.50" y="1773.70" width="23.90" height="96.30" fill="#33adff" stroke="#111" stroke-width="1.1"/>
<text x="202.00" y="1892.30" font-size="19.5" text-anchor="middle" font-weight="normal" fill="#000" >1</text>
<rect x="241.50" y="1604.30" width="23.90" height="265.70" fill="#33adff" stroke="#111" stroke-width="1.1"/>
<rect x="268.60" y="1797.90" width="23.90" height="72.10" fill="#a0184e" stroke="#111" stroke-width="1.1"/>
<text x="267.00" y="1892.30" font-size="19.5" text-anchor="middle" font-weight="normal" fill="#000" >2</text>
<rect x="306.50" y="1797.90" width="23.90" height="72.10" fill="#33adff" stroke="#111" stroke-width="1.1"/>
<rect x="333.60" y="1725.30" width="23.90" height="144.70" fill="#a0184e" stroke="#111" stroke-width="1.1"/>
<text x="332.00" y="1892.30" font-size="19.5" text-anchor="middle" font-weight="normal" fill="#000" >3</text>
<rect x="371.50" y="1555.90" width="23.90" height="314.10" fill="#33adff" stroke="#111" stroke-width="1.1"/>
<rect x="398.60" y="1773.70" width="23.90" height="96.30" fill="#a0184e" stroke="#111" stroke-width="1.1"/>
<text x="397.00" y="1892.30" font-size="19.5" text-anchor="middle" font-weight="normal" fill="#000" >4</text>
<rect x="436.50" y="1725.30" width="23.90" height="144.70" fill="#33adff" stroke="#111" stroke-width="1.1"/>
<rect x="463.60" y="1773.70" width="23.90" height="96.30" fill="#a0184e" stroke="#111" stroke-width="1.1"/>
<text x="462.00" y="1892.30" font-size="19.5" text-anchor="middle" font-weight="normal" fill="#000" >6</text>
<rect x="501.50" y="1725.30" width="23.90" height="144.70" fill="#33adff" stroke="#111" stroke-width="1.1"/>
<rect x="528.60" y="1822.10" width="23.90" height="47.90" fill="#a0184e" stroke="#111" stroke-width="1.1"/>
<text x="527.00" y="1892.30" font-size="19.5" text-anchor="middle" font-weight="normal" fill="#000" >8</text>
<line x1="86.00" y1="1512.80" x2="86.00" y2="1870.00" stroke="#888888" stroke-width="1.6"/>
<line x1="86.00" y1="1870.00" x2="578.30" y2="1870.00" stroke="#888888" stroke-width="1.6"/>
<text x="1.50" y="1543.50" font-size="21" text-anchor="start" font-weight="normal" fill="#000" >(D)</text>
<text x="616.40" y="1530.00" font-size="14.8" text-anchor="middle" font-weight="bold" fill="#000" >ATRX</text>
<text x="616.40" y="1544.50" font-size="14.8" text-anchor="middle" font-weight="bold" fill="#000" >CNV</text>
<text x="616.40" y="1559.00" font-size="14.8" text-anchor="middle" font-weight="bold" fill="#000" >decrease</text>
<rect x="592.20" y="1569.60" width="11" height="10.5" fill="#33adff" stroke="#111" stroke-width="1.2" rx="0.8"/>
<text x="609.20" y="1579.20" font-size="12.2" text-anchor="start" font-weight="normal" fill="#222" >= No</text>
<rect x="592.20" y="1583.50" width="11" height="10.5" fill="#a0184e" stroke="#111" stroke-width="1.2" rx="0.8"/>
<text x="609.20" y="1593.10" font-size="12.2" text-anchor="start" font-weight="normal" fill="#222" >= Yes</text>
<text x="330.60" y="1922.50" font-size="14.5" text-anchor="middle" font-weight="bold" fill="#000" >ATRX GIS-Score</text>
<text transform="translate(26.5,1692) rotate(-90)" font-size="14.5" font-weight="bold" text-anchor="middle">Number of cases</text>
<line x1="774.80" y1="1400.30" x2="1479.30" y2="1400.30" stroke="#cccccc" stroke-width="1.6"/>
<text x="770.00" y="1407.70" font-size="19.5" text-anchor="end" font-weight="normal" fill="#000" >0</text>
<line x1="774.80" y1="1312.92" x2="1479.30" y2="1312.92" stroke="#cccccc" stroke-width="1.6"/>
<text x="770.00" y="1320.32" font-size="19.5" text-anchor="end" font-weight="normal" fill="#000" >2</text>
<line x1="774.80" y1="1225.54" x2="1479.30" y2="1225.54" stroke="#cccccc" stroke-width="1.6"/>
<text x="770.00" y="1232.94" font-size="19.5" text-anchor="end" font-weight="normal" fill="#000" >4</text>
<line x1="774.80" y1="1138.16" x2="1479.30" y2="1138.16" stroke="#cccccc" stroke-width="1.6"/>
<text x="770.00" y="1145.56" font-size="19.5" text-anchor="end" font-weight="normal" fill="#000" >6</text>
<line x1="774.80" y1="1050.78" x2="1479.30" y2="1050.78" stroke="#cccccc" stroke-width="1.6"/>
<text x="770.00" y="1058.18" font-size="19.5" text-anchor="end" font-weight="normal" fill="#000" >8</text>
<line x1="774.80" y1="1032.00" x2="774.80" y2="1419.80" stroke="#888888" stroke-width="1.6"/>
<line x1="774.80" y1="1419.80" x2="1479.30" y2="1419.80" stroke="#888888" stroke-width="1.6"/>
<line x1="968.70" y1="1138.16" x2="968.70" y2="1400.30" stroke="#555" stroke-width="1.4"/>
<line x1="948.90" y1="1400.30" x2="988.50" y2="1400.30" stroke="#222" stroke-width="1.8"/>
<line x1="948.90" y1="1138.16" x2="988.50" y2="1138.16" stroke="#222" stroke-width="1.8"/>
<rect x="929.20" y="1225.54" width="78.90" height="87.38" fill="#33adff" stroke="#222" stroke-width="1.3"/>
<line x1="929.20" y1="1225.54" x2="1008.10" y2="1225.54" stroke="#111" stroke-width="2.2"/>
<text x="968.70" y="1437.40" font-size="15.5" text-anchor="middle" font-weight="normal" fill="#333" >No</text>
<line x1="1286.40" y1="1050.78" x2="1286.40" y2="1400.30" stroke="#555" stroke-width="1.4"/>
<line x1="1266.60" y1="1400.30" x2="1306.20" y2="1400.30" stroke="#222" stroke-width="1.8"/>
<line x1="1266.60" y1="1050.78" x2="1306.20" y2="1050.78" stroke="#222" stroke-width="1.8"/>
<rect x="1246.40" y="1138.16" width="78.90" height="174.76" fill="#33adff" stroke="#222" stroke-width="1.3"/>
<line x1="1246.40" y1="1225.54" x2="1325.30" y2="1225.54" stroke="#111" stroke-width="2.2"/>
<text x="1286.40" y="1437.40" font-size="15.5" text-anchor="middle" font-weight="normal" fill="#333" >Yes</text>
<line x1="977.20" y1="1125.50" x2="1275.90" y2="1125.50" stroke="#173f62" stroke-width="2.0"/>
<path d="M969.20,1125.50 L980.20,1120.30 L980.20,1130.70 Z" fill="#1b5e85"/>
<path d="M1283.90,1125.50 L1272.90,1120.30 L1272.90,1130.70 Z" fill="#1b5e85"/>
<text x="1111.30" y="1110.50" font-size="18" text-anchor="middle" font-weight="normal" fill="#000" >n.s.</text>
<text x="717.50" y="1076.00" font-size="21" text-anchor="start" font-weight="normal" fill="#000" >(C)</text>
<text x="1126.80" y="1465.50" font-size="14.7" text-anchor="middle" font-weight="bold" fill="#000" >ATRX CNV increase</text>
<text transform="translate(743.50,1225.20) rotate(-90)" font-size="14.5" font-weight="bold" text-anchor="middle">ATRX GIS-Score</text>
<circle cx="968.7" cy="1050.8" r="3.3" fill="#fff" stroke="#111" stroke-width="1.5"/>
<text x="954.50" y="1044.50" font-size="9.5" text-anchor="start" font-weight="normal" fill="#000" >53</text>
<text x="972.80" y="1044.50" font-size="9.5" text-anchor="start" font-weight="normal" fill="#000" >51</text>
<text x="983.20" y="1046.30" font-size="9.5" text-anchor="start" font-weight="normal" fill="#000" >3</text>
<line x1="776.00" y1="1862.70" x2="1479.30" y2="1862.70" stroke="#cccccc" stroke-width="1.6"/>
<text x="771.20" y="1870.10" font-size="19.5" text-anchor="end" font-weight="normal" fill="#000" >0</text>
<line x1="776.00" y1="1775.98" x2="1479.30" y2="1775.98" stroke="#cccccc" stroke-width="1.6"/>
<text x="771.20" y="1783.38" font-size="19.5" text-anchor="end" font-weight="normal" fill="#000" >2</text>
<line x1="776.00" y1="1689.26" x2="1479.30" y2="1689.26" stroke="#cccccc" stroke-width="1.6"/>
<text x="771.20" y="1696.66" font-size="19.5" text-anchor="end" font-weight="normal" fill="#000" >4</text>
<line x1="776.00" y1="1602.54" x2="1479.30" y2="1602.54" stroke="#cccccc" stroke-width="1.6"/>
<text x="771.20" y="1609.94" font-size="19.5" text-anchor="end" font-weight="normal" fill="#000" >6</text>
<line x1="776.00" y1="1515.82" x2="1479.30" y2="1515.82" stroke="#cccccc" stroke-width="1.6"/>
<text x="771.20" y="1523.22" font-size="19.5" text-anchor="end" font-weight="normal" fill="#000" >8</text>
<line x1="776.00" y1="1497.30" x2="776.00" y2="1881.90" stroke="#888888" stroke-width="1.6"/>
<line x1="776.00" y1="1881.90" x2="1479.30" y2="1881.90" stroke="#888888" stroke-width="1.6"/>
<line x1="970.30" y1="1515.82" x2="970.30" y2="1862.70" stroke="#555" stroke-width="1.4"/>
<line x1="950.50" y1="1862.70" x2="990.10" y2="1862.70" stroke="#222" stroke-width="1.8"/>
<line x1="950.50" y1="1515.82" x2="990.10" y2="1515.82" stroke="#222" stroke-width="1.8"/>
<rect x="930.30" y="1602.54" width="78.90" height="173.44" fill="#33adff" stroke="#222" stroke-width="1.3"/>
<line x1="930.30" y1="1689.26" x2="1009.20" y2="1689.26" stroke="#111" stroke-width="2.2"/>
<text x="970.30" y="1901.50" font-size="15.5" text-anchor="middle" font-weight="normal" fill="#333" >No</text>
<line x1="1286.90" y1="1515.82" x2="1286.90" y2="1862.70" stroke="#555" stroke-width="1.4"/>
<line x1="1267.10" y1="1862.70" x2="1306.70" y2="1862.70" stroke="#222" stroke-width="1.8"/>
<line x1="1267.10" y1="1515.82" x2="1306.70" y2="1515.82" stroke="#222" stroke-width="1.8"/>
<rect x="1247.40" y="1602.54" width="78.40" height="130.08" fill="#33adff" stroke="#222" stroke-width="1.3"/>
<line x1="1247.40" y1="1710.94" x2="1325.80" y2="1710.94" stroke="#111" stroke-width="2.2"/>
<text x="1286.90" y="1901.50" font-size="15.5" text-anchor="middle" font-weight="normal" fill="#333" >Yes</text>
<line x1="978.80" y1="1561.60" x2="1276.40" y2="1561.60" stroke="#173f62" stroke-width="2.0"/>
<path d="M970.80,1561.60 L981.80,1556.40 L981.80,1566.80 Z" fill="#1b5e85"/>
<path d="M1284.40,1561.60 L1273.40,1556.40 L1273.40,1566.80 Z" fill="#1b5e85"/>
<text x="1126.40" y="1551.00" font-size="18" text-anchor="middle" font-weight="normal" fill="#000" >n.s.</text>
<text x="717.50" y="1540.50" font-size="21" text-anchor="start" font-weight="normal" fill="#000" >(E)</text>
<text x="1126.80" y="1930.00" font-size="14.7" text-anchor="middle" font-weight="bold" fill="#000" >ATRX CNV decrease</text>
<text transform="translate(745.00,1689.50) rotate(-90)" font-size="14.5" font-weight="bold" text-anchor="middle">ATRX GIS-Score</text>
</svg>
</body></html>
